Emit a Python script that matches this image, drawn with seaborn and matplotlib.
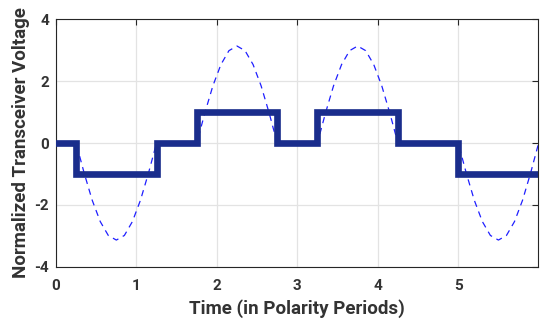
import matplotlib
matplotlib.use("Agg")
import pandas as pd
import matplotlib.pyplot as plt
import seaborn as sns

# step (transceiver output) levels
step_t = [0, 0.25, 1.25, 1.75, 2.75, 3.25, 4.25, 5.0, 6.0]
step_v = [0, -1, 0, 1, 0, 1, 0, -1, -1]

# dashed half-wave pulses
wave_t = [0.0,
          0.25, 0.35, 0.45, 0.55, 0.65, 0.75, 0.85, 0.95, 1.05, 1.15, 1.25,
          1.75, 1.85, 1.95, 2.05, 2.15, 2.25, 2.35, 2.45, 2.55, 2.65, 2.75,
          3.25, 3.35, 3.45, 3.55, 3.65, 3.75, 3.85, 3.95, 4.05, 4.15, 4.25,
          5.0, 5.1, 5.2, 5.3, 5.4, 5.5, 5.6, 5.7, 5.8, 5.9, 6.0]
wave_v = [0.0,
          0, -0.97, -1.85, -2.54, -2.99, -3.14, -2.99, -2.54, -1.85, -0.97, 0,
          0, 0.97, 1.85, 2.54, 2.99, 3.14, 2.99, 2.54, 1.85, 0.97, 0,
          0, 0.97, 1.85, 2.54, 2.99, 3.14, 2.99, 2.54, 1.85, 0.97, 0,
          0, -0.97, -1.85, -2.54, -2.99, -3.14, -2.99, -2.54, -1.85, -0.97, 0]

xticks = [0, 1, 2, 3, 4, 5]
yticks = [-4, -2, 0, 2, 4]

sns.set_theme(style="whitegrid")
plt.rcParams["font.family"] = ["Roboto", "DejaVu Sans"]

steps = pd.DataFrame({"t": step_t, "v": step_v})
wave = pd.DataFrame({"t": wave_t, "v": wave_v})

fig = plt.figure(figsize=(5.4, 3.24), dpi=100)
ax = fig.add_axes([0.1037, 0.177, 0.8923, 0.763])

sns.lineplot(data=wave, x="t", y="v", ax=ax, sort=False, estimator=None,
             color="#1f1fff", lw=0.9, linestyle=(0, (5, 4)), zorder=2)
sns.lineplot(data=steps, x="t", y="v", ax=ax, sort=False, estimator=None,
             color="#1a2d8c", lw=4.8, drawstyle="steps-post", zorder=3,
             solid_joinstyle="miter")

ax.set_xlim(0, 5.99)
ax.set_ylim(-4, 4)
ax.set_xticks(xticks)
ax.set_yticks(yticks)
ax.set_xticklabels([str(v) for v in xticks])
ax.set_yticklabels([str(v) for v in yticks])

ax.grid(True, color="#e3e3e3", lw=0.9)
for s in ax.spines.values():
    s.set_visible(True)
    s.set_color("#262626")
    s.set_linewidth(0.8)
ax.tick_params(direction="in", length=4, width=0.8, color="#262626",
               top=True, right=True, labelsize=11, labelcolor="#333333")
ax.tick_params(axis="x", pad=9)
ax.tick_params(axis="y", pad=5)
for lab in ax.get_xticklabels() + ax.get_yticklabels():
    lab.set_fontweight("bold")

ax.set_xlabel("Time (in Polarity Periods)", fontsize=13.5, color="#333333",
              fontweight="bold", labelpad=4)
ax.set_ylabel("Normalized Transceiver Voltage", fontsize=13.5, color="#333333",
              fontweight="bold", labelpad=3)

fig.savefig("out.png", dpi=100)
